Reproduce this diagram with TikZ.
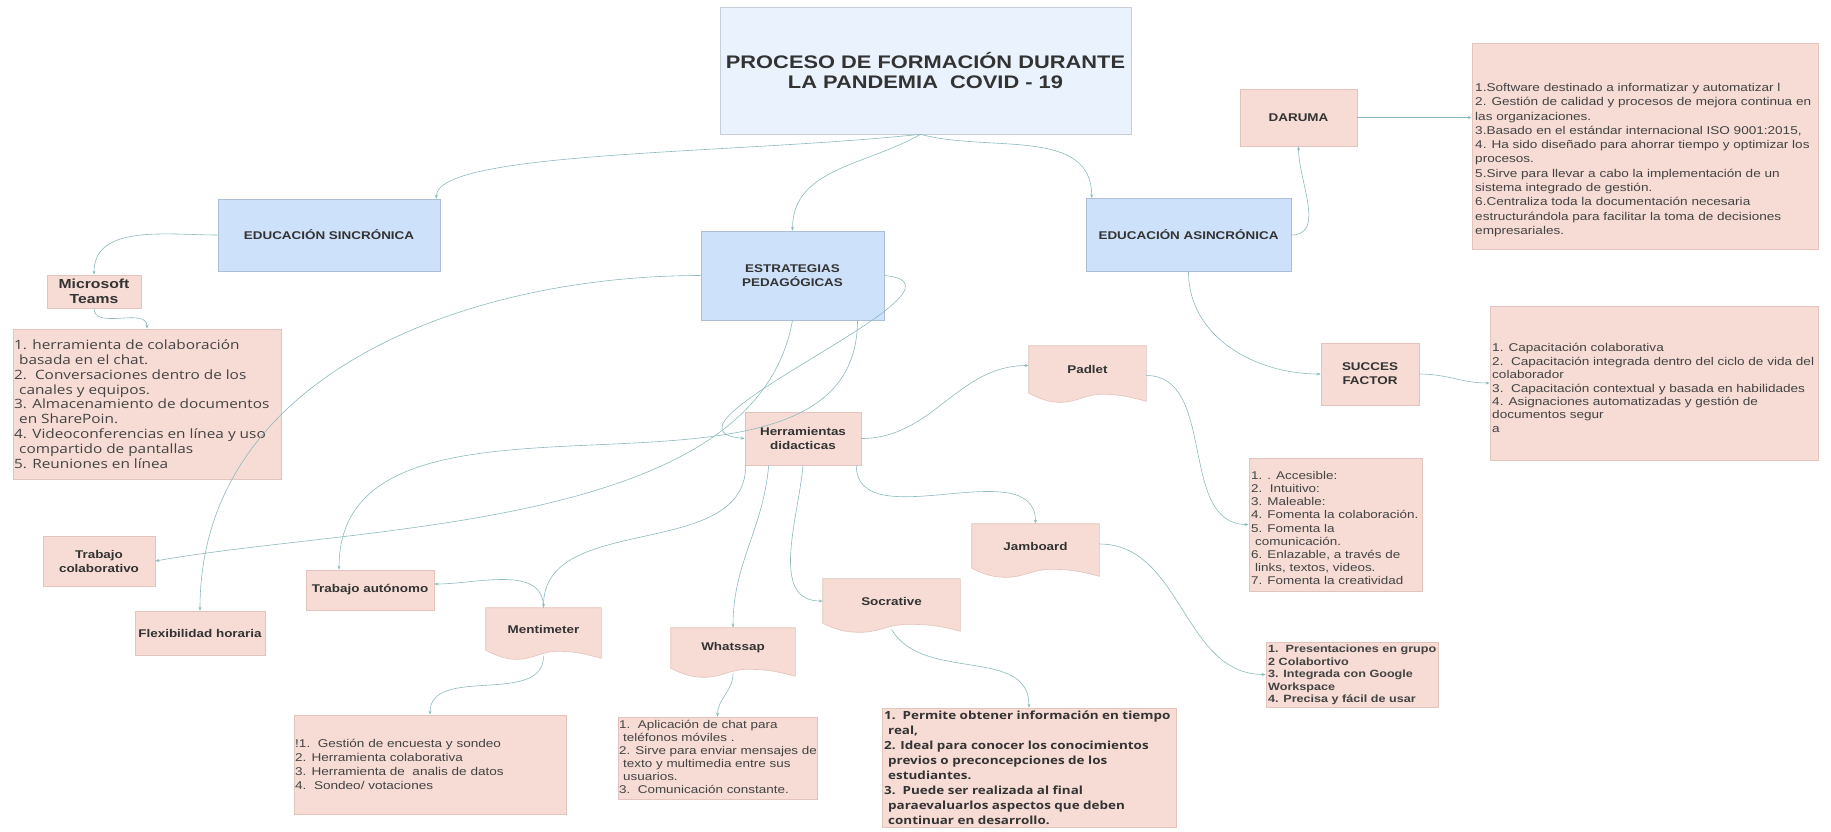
\documentclass[tikz,border=0pt]{standalone}
\usepackage{fontspec}
\setmainfont{Liberation Sans}[FakeStretch=1.2]
\newfontfamily\osans{Open Sans}[FakeStretch=1.2]
\usepackage{tikz}
\usetikzlibrary{arrows.meta,backgrounds,calc}

\definecolor{titlefill}{RGB}{234,242,253}
\definecolor{titleline}{RGB}{200,206,214}
\definecolor{bluefill}{RGB}{206,225,250}
\definecolor{blueline}{RGB}{172,190,212}
\definecolor{pinkfill}{RGB}{246,220,212}
\definecolor{pinkline}{RGB}{226,196,188}
\definecolor{linkcol}{RGB}{140,186,190}
\definecolor{txt}{RGB}{51,51,51}

\tikzset{
  box/.style={inner sep=0pt, line width=0.6pt, align=center, text=txt,
    font=\fontsize{11.2}{14}\selectfont\bfseries},
  bluebox/.style={box, fill=bluefill, draw=blueline},
  pinkbox/.style={box, fill=pinkfill, draw=pinkline},
  docbox/.style={box},
  docshape/.style={fill=pinkfill, draw=pinkline, line width=0.6pt},
  listtxt/.style={inner sep=0pt, anchor=west, align=left, text=txt!92!white,
    font=\fontsize{11.3}{14.3}\selectfont},
  link/.style={draw=linkcol, line width=0.6pt, -{Stealth[length=4pt,width=3pt]}}
}

\begin{document}
\begin{tikzpicture}[x=1pt,y=1pt]
  \useasboundingbox (0,0) rectangle (1831,-831);

  \node[box, fill=titlefill, draw=titleline, minimum width=411pt, minimum height=127pt,
    font=\fontsize{18.2}{20.5}\selectfont\bfseries] (title) at (925.5,-70.5)
    {PROCESO DE FORMACIÓN DURANTE\\LA PANDEMIA\ \ COVID - 19};

  \node[bluebox, minimum width=222pt, minimum height=72pt] (sinc) at (329,-235) {EDUCACIÓN SINCRÓNICA};
  \node[bluebox, minimum width=205pt, minimum height=73pt] (asinc) at (1188.5,-235) {EDUCACIÓN ASINCRÓNICA};
  \node[bluebox, minimum width=183pt, minimum height=89pt] (estr) at (792.5,-275.5) {ESTRATEGIAS\\PEDAGÓGICAS};

  \node[pinkbox, minimum width=94pt, minimum height=33pt,
    font=\fontsize{13.1}{15.5}\selectfont\bfseries] (teams) at (94,-291.5) {Microsoft\\Teams};
  \node[pinkbox, minimum width=117pt, minimum height=57pt] (daruma) at (1298.5,-117.5) {DARUMA};
  \node[pinkbox, minimum width=98pt, minimum height=62pt] (sf) at (1370,-374) {SUCCES\\FACTOR};
  \node[pinkbox, minimum width=116pt, minimum height=53pt] (herr) at (803,-438.5) {Herramientas\\didacticas};
  \node[pinkbox, minimum width=112pt, minimum height=50pt] (trabcol) at (99,-561) {Trabajo\\colaborativo};
  \node[pinkbox, minimum width=130pt, minimum height=44pt] (flex) at (200,-633) {Flexibilidad horaria};
  \node[pinkbox, minimum width=128pt, minimum height=40pt] (trabaut) at (370,-590) {Trabajo autónomo};

  \node[docbox, minimum width=117pt, minimum height=47pt] (padlet) at (1087.5,-369.5) {Padlet};
  \node[docbox, minimum width=127pt, minimum height=44pt] (jam) at (1035.5,-546) {Jamboard};
  \node[docbox, minimum width=115pt, minimum height=42pt] (menti) at (543.5,-629) {Mentimeter};
  \node[docbox, minimum width=124pt, minimum height=40pt] (whats) at (733,-648) {Whatssap};
  \node[docbox, minimum width=137pt, minimum height=44pt] (socr) at (891.5,-601) {Socrative};

  \node[pinkbox, minimum width=346pt, minimum height=206pt] (darlist) at (1645,-146) {};
  \node[pinkbox, minimum width=328pt, minimum height=154pt] (sflist) at (1654,-383) {};
  \node[pinkbox, minimum width=173pt, minimum height=133pt] (padlist) at (1335.5,-524.5) {};
  \node[pinkbox, minimum width=172pt, minimum height=65pt] (jamlist) at (1352,-674.5) {};
  \node[pinkbox, minimum width=268pt, minimum height=150pt] (teamslist) at (147,-404) {};
  \node[pinkbox, minimum width=272pt, minimum height=99pt] (mentilist) at (430,-764.5) {};
  \node[pinkbox, minimum width=199pt, minimum height=82pt] (whatslist) at (717.5,-758) {};
  \node[pinkbox, minimum width=294pt, minimum height=119pt] (socrlist) at (1029,-767.5) {};

  \node[listtxt] (darlist-t) at (1475,-160) {1.Software destinado a informatizar y automatizar l\\
    2. Gestión de calidad y procesos de mejora continua en\\
    las organizaciones.\\
    3.Basado en el estándar internacional ISO 9001:2015,\\
    4. Ha sido diseñado para ahorrar tiempo y optimizar los\\
    procesos.\\
    5.Sirve para llevar a cabo la implementación de un\\
    sistema integrado de gestión.\\
    6.Centraliza toda la documentación necesaria\\
    estructurándola para facilitar la toma de decisiones\\
    empresariales.};
  \node[listtxt, font=\fontsize{11.3}{13.4}\selectfont] (sflist-t) at (1492,-388) {1. Capacitación colaborativa\\
    2.\ \ Capacitación integrada dentro del ciclo de vida del\\
    colaborador\\
    3.\ \ Capacitación contextual y basada en habilidades\\
    4. Asignaciones automatizadas y gestión de\\
    documentos segur\\
    a};
  \node[listtxt, font=\fontsize{11.2}{13.2}\selectfont] (padlist-t) at (1251,-528) {1. . Accesible:\\
    2.\ \ Intuitivo:\\
    3. Maleable:\\
    4. Fomenta la colaboración.\\
    5. Fomenta la\\
    \hspace*{4pt}comunicación.\\
    6. Enlazable, a través de\\
    \hspace*{4pt}links, textos, videos.\\
    7. Fomenta la creatividad};
  \node[listtxt, font=\fontsize{10.5}{12.5}\selectfont\bfseries] (jamlist-t) at (1268,-675) {1.\ \ Presentaciones en grupo\\
    2 Colabortivo\\
    3. Integrada con Google\\
    Workspace\\
    4. Precisa y fácil de usar};
  \node[listtxt, font=\osans\fontsize{12.8}{14.8}\selectfont] (teamslist-t) at (14,-404) {1. herramienta de colaboración\\
    \hspace*{5pt}basada en el chat.\\
    2.\ \ Conversaciones dentro de los\\
    \hspace*{5pt}canales y equipos.\\
    3. Almacenamiento de documentos\\
    \hspace*{5pt}en SharePoin.\\
    4. Videoconferencias en línea y uso\\
    \hspace*{5pt}compartido de pantallas\\
    5. Reuniones en línea};
  \node[listtxt, font=\fontsize{11.3}{14}\selectfont] (mentilist-t) at (295,-764) {!1.\ \ Gestión de encuesta y sondeo\\
    2. Herramienta colaborativa\\
    3. Herramienta de\ \ analis de datos\\
    4.\ \ Sondeo/ votaciones};
  \node[listtxt, font=\fontsize{11.2}{13}\selectfont] (whatslist-t) at (619,-757) {1.\ \ Aplicación de chat para\\
    \hspace*{4pt}teléfonos móviles .\\
    2. Sirve para enviar mensajes de\\
    \hspace*{4pt}texto y multimedia entre sus\\
    \hspace*{4pt}usuarios.\\
    3.\ \ Comunicación constante.};
  \node[listtxt, text=txt, font=\osans\fontsize{11.2}{15}\selectfont\bfseries] (socrlist-t) at (884,-768) {1.\ \ Permite obtener información en tiempo\\
    \hspace*{4pt}real,\\
    2. Ideal para conocer los conocimientos\\
    \hspace*{4pt}previos o preconcepciones de los\\
    \hspace*{4pt}estudiantes.\\
    3.\ \ Puede ser realizada al final\\
    \hspace*{4pt}paraevaluarlos aspectos que deben\\
    \hspace*{4pt}continuar en desarrollo.};

  \begin{scope}[on background layer]
    \foreach \n in {padlet,jam,menti,whats,socr}
      \draw[docshape] (\n.north west) -- (\n.north east) -- ([yshift=-8pt]\n.south east)
        to[out=165,in=0] ($(\n.south west)!0.62!(\n.south east)+(0,-1)$)
        to[out=180,in=0] ($(\n.south west)!0.27!(\n.south east)+(0,-9)$)
        to[out=180,in=-25] (\n.south west) -- cycle;
  \end{scope}

  \draw[link] ([xshift=-5pt]title.south) to[out=186,in=90,in looseness=0.25] ([xshift=-4pt]sinc.north east);
  \draw[link] ([xshift=-5pt]title.south) to[out=-150,in=90] (estr.north);
  \draw[link] ([xshift=-5pt]title.south) to[out=-15,in=90] ([xshift=6pt]asinc.north west);
  \draw[link] (sinc.west) to[out=180,in=90] (teams.north);
  \draw[link] (teams.south) to[out=-90,in=90] (teamslist.north);
  \draw[link] (asinc.east) to[out=0,in=-90] (daruma.south);
  \draw[link] (daruma.east) -- (darlist.west |- daruma.east);
  \draw[link] (asinc.south) to[out=-90,in=180] (sf.west);
  \draw[link] (sf.east) to[out=0,in=180] (sflist.west);
  \draw[link] (estr.west) to[out=180,in=90] (flex.north);
  \draw[link] (estr.south) to[out=-100,in=10,looseness=0.8] (trabcol.east);
  \draw[link] ([xshift=65pt]estr.south) to[out=-90,in=90] ([xshift=-31pt]trabaut.north);
  \draw[link] (estr.east) .. controls +(110,-10) and +(-110,10) .. (herr.west);
  \draw[link] (herr.east) to[out=0,in=180] ([yshift=4pt]padlet.west);
  \draw[link] ([yshift=-6pt]padlet.east) to[out=0,in=180] (padlist.west);
  \draw[link] ([xshift=-5pt]herr.south east) to[out=-90,in=90] (jam.north);
  \draw[link] ([xshift=1pt]herr.south west) to[out=-90,in=90] (menti.north);
  \draw[link] ([xshift=24pt]herr.south west) to[out=-95,in=90] (whats.north);
  \draw[link] (herr.south) to[out=-95,in=180] (socr.west);
  \draw[link] (menti.north) to[out=90,in=0] ([yshift=6pt]trabaut.east);
  \draw[link] ([yshift=-6pt]menti.south) to[out=-90,in=90] (mentilist.north);
  \draw[link] ([yshift=-5pt]whats.south) to[out=-90,in=90] (whatslist.north);
  \draw[link] ([yshift=-6pt]socr.south) to[out=-60,in=90] (socrlist.north);
  \draw[link] ([yshift=2pt]jam.east) to[out=0,in=180] (jamlist.west);
\end{tikzpicture}
\end{document}
